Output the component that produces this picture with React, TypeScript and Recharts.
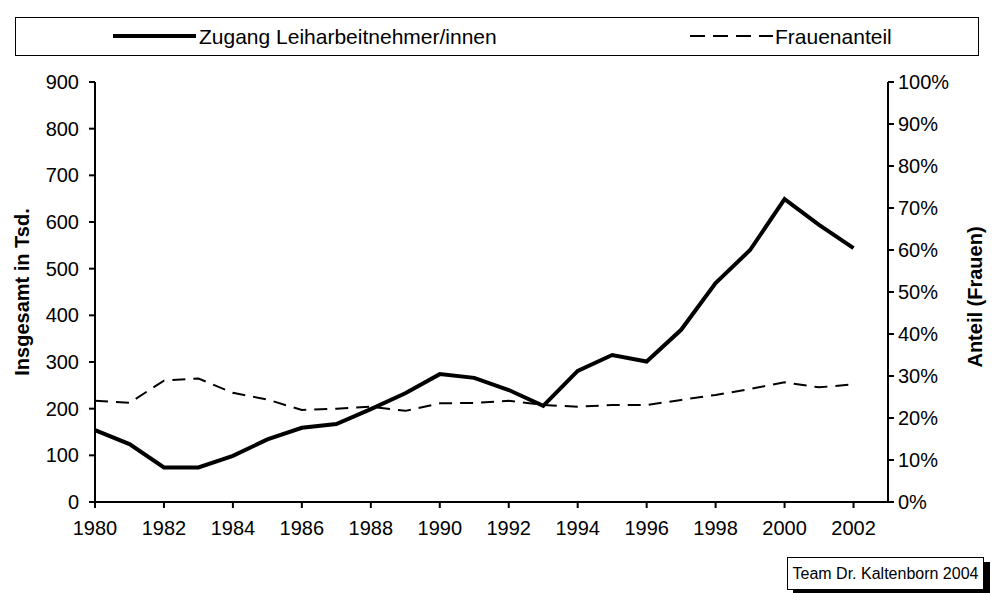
import React from 'react';
import { LineChart, Line, XAxis, YAxis, Legend } from 'recharts';

const YEARS = [1980, 1981, 1982, 1983, 1984, 1985, 1986, 1987, 1988, 1989, 1990, 1991, 1992, 1993, 1994, 1995, 1996, 1997, 1998, 1999, 2000, 2001, 2002];
const ZUGANG = [154, 124, 74, 74, 99, 134, 159, 167, 199, 233, 274, 266, 240, 206, 281, 315, 301, 369, 469, 540, 649, 594, 544];
const FRAUENANTEIL = [0.241, 0.236, 0.289, 0.294, 0.26, 0.244, 0.219, 0.222, 0.227, 0.217, 0.235, 0.236, 0.241, 0.231, 0.227, 0.231, 0.231, 0.243, 0.255, 0.269, 0.285, 0.273, 0.28];
const X_TICKS = [1980, 1982, 1984, 1986, 1988, 1990, 1992, 1994, 1996, 1998, 2000, 2002];
const LEFT_TICKS = [0, 100, 200, 300, 400, 500, 600, 700, 800, 900];
const RIGHT_TICKS = [0, 0.1, 0.2, 0.3, 0.4, 0.5, 0.6, 0.7, 0.8, 0.9, 1];
const SERIES_KEYS = ['zugang', 'frauen'];
const SERIES_NAMES = ['Zugang Leiharbeitnehmer/innen', 'Frauenanteil'];
const LEFT_TITLE = 'Insgesamt in Tsd.';
const RIGHT_TITLE = 'Anteil (Frauen)';
const SOURCE = 'Team Dr. Kaltenborn 2004';

const FONT = '"Liberation Sans", Arial, Helvetica, sans-serif';
const DASH = '13 8';

const data = YEARS.map((year, i) => ({ year, zugang: ZUGANG[i], frauen: FRAUENANTEIL[i] }));

function LegendBox(props: any) {
  const payload: any[] = props.payload || [];
  const slots: Record<string, { x1: number; x2: number; tx: number }> = {
    zugang: { x1: 97, x2: 180, tx: 183 },
    frauen: { x1: 674, x2: 757, tx: 759 },
  };
  return (
    <div style={{ width: 964, height: 39, border: '1px solid #000', boxSizing: 'border-box', background: '#fff' }}>
      <svg width={962} height={37} style={{ display: 'block' }}>
        {payload.map((entry: any, i: number) => {
          const key = entry.dataKey || SERIES_KEYS[i];
          const s = slots[key] || slots.zugang;
          const dashed = key === 'frauen';
          return (
            <g key={key}>
              <line x1={s.x1} x2={s.x2} y1={18} y2={18} stroke="#000" strokeWidth={dashed ? 2 : 4} strokeDasharray={dashed ? '15 8' : undefined} />
              <text x={s.tx} y={18} dominantBaseline="central" fontFamily={FONT} fontSize={21} fill="#000">{entry.value}</text>
            </g>
          );
        })}
      </svg>
    </div>
  );
}

function leftTitle(p: any) {
  const vb = p.viewBox || { x: 35, y: 82, width: 60, height: 420 };
  const x = vb.x - 13;
  const y = vb.y + vb.height / 2;
  return (
    <text x={x} y={y} transform={`rotate(-90 ${x} ${y})`} textAnchor="middle" dominantBaseline="central" fontFamily={FONT} fontWeight="bold" fontSize={20} fill="#000">{LEFT_TITLE}</text>
  );
}

function rightTitle(p: any) {
  const vb = p.viewBox || { x: 888, y: 82, width: 70, height: 420 };
  const x = vb.x + 87;
  const y = vb.y + vb.height / 2 + 5;
  return (
    <text x={x} y={y} transform={`rotate(-90 ${x} ${y})`} textAnchor="middle" dominantBaseline="central" fontFamily={FONT} fontWeight="bold" fontSize={20} fill="#000">{RIGHT_TITLE}</text>
  );
}

export default function App() {
  const tickStyle = { fill: '#000', fontSize: 20, fontFamily: FONT };
  return (
    <div style={{ position: 'absolute', left: 0, top: 0, width: 997, height: 593, background: '#fff' }}>
      <LineChart width={997} height={593} data={data} margin={{ top: 82, right: 39, bottom: 51, left: 35 }}>
        <XAxis
          dataKey="year"
          type="number"
          domain={[1980, 2003]}
          ticks={X_TICKS}
          axisLine={{ stroke: '#000', strokeWidth: 2 }}
          tickLine={{ stroke: '#000', strokeWidth: 2 }}
          tickSize={6}
          tickMargin={13}
          tick={tickStyle}
          height={40}
          interval={0}
        />
        <YAxis
          yAxisId="left"
          domain={[0, 900]}
          ticks={LEFT_TICKS}
          axisLine={{ stroke: '#000', strokeWidth: 2 }}
          tickLine={{ stroke: '#000', strokeWidth: 2 }}
          tickSize={6}
          tickMargin={10}
          tick={tickStyle}
          width={60}
          interval={0}
          label={{ content: leftTitle }}
        />
        <YAxis
          yAxisId="right"
          orientation="right"
          domain={[0, 1]}
          ticks={RIGHT_TICKS}
          tickFormatter={(v: number) => `${Math.round(v * 100)}%`}
          axisLine={{ stroke: '#000', strokeWidth: 2 }}
          tickLine={{ stroke: '#000', strokeWidth: 2 }}
          tickSize={6}
          tickMargin={4}
          tick={tickStyle}
          width={70}
          interval={0}
          label={{ content: rightTitle }}
        />
        <Legend
          layout="vertical"
          align="center"
          verticalAlign="middle"
          content={<LegendBox />}
          wrapperStyle={{ position: 'absolute', left: 15, top: 17, width: 964, height: 39 }}
        />
        <Line yAxisId="left" dataKey="zugang" name={SERIES_NAMES[0]} stroke="#000" strokeWidth={4} dot={false} isAnimationActive={false} strokeLinejoin="miter" />
        <Line yAxisId="right" dataKey="frauen" name={SERIES_NAMES[1]} stroke="#000" strokeWidth={2} strokeDasharray={DASH} dot={false} isAnimationActive={false} />
      </LineChart>
      <div style={{ position: 'absolute', left: 787, top: 557, width: 197, height: 33, border: '1px solid #000', boxSizing: 'border-box', background: '#fff', boxShadow: '6px 5px 0 0 #000', fontFamily: FONT, fontSize: 16, lineHeight: '31px', textAlign: 'center', color: '#000', whiteSpace: 'nowrap' }}>
        {SOURCE}
      </div>
    </div>
  );
}
